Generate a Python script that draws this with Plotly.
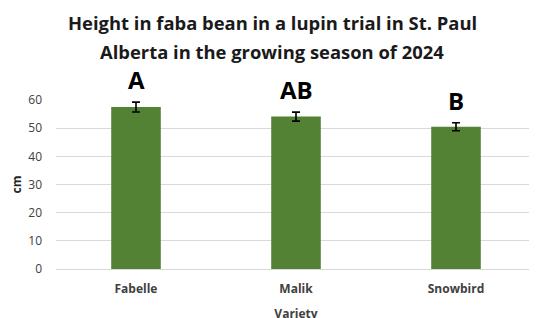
import plotly.graph_objects as go

varieties = ["Fabelle", "Malik", "Snowbird"]
height_cm = [57.5, 54.1, 50.5]
error_cm = [1.75, 1.6, 1.4]
letters = ["A", "AB", "B"]
y_ticks = [0, 10, 20, 30, 40, 50, 60]
title_lines = ["Height in faba bean in a lupin trial in St. Paul",
               "Alberta in the growing season of 2024"]

fig = go.Figure()
fig.add_trace(go.Bar(
    x=varieties, y=height_cm, width=0.31,
    marker=dict(color="#548235", line=dict(width=0)),
    error_y=dict(type="data", array=error_cm, visible=True,
                 color="black", thickness=1.6, width=4),
))
for v, h, e, l in zip(varieties, height_cm, error_cm, letters):
    fig.add_annotation(x=v, y=h + e, text="<b>" + l + "</b>", showarrow=False,
                       yanchor="bottom", yshift=4,
                       font=dict(family="Open Sans", size=24, color="black"))

for line, ypos in zip(title_lines, [1.4615, 1.285]):
    fig.add_annotation(
        text="<b>" + line + "</b>",
        xref="paper", yref="paper", x=0.5, y=ypos, xanchor="center", yanchor="middle",
        xshift=-24, showarrow=False,
        font=dict(family="Open Sans", size=18.4, color="#1a1a1a"))

fig.update_layout(
    width=537, height=318,
    margin=dict(l=48, r=9, t=92, b=57, autoexpand=False),
    paper_bgcolor="white", plot_bgcolor="white",
    showlegend=False,
)
fig.update_xaxes(
    title=dict(text="<b>Variety</b>", font=dict(family="Open Sans", size=12, color="#404040"), standoff=13),
    tickfont=dict(family="Open Sans", size=12, color="#404040"),
    showline=True, linecolor="#d9d9d9", ticks="", automargin=False,
    tickprefix="<b>", ticksuffix="</b>", ticklabelstandoff=9,
)
fig.update_yaxes(
    range=[0, 60], tickvals=y_ticks, automargin=False,
    title=dict(text="<b>cm</b>", font=dict(family="Open Sans", size=12, color="#262626"), standoff=11),
    tickfont=dict(family="Open Sans", size=12, color="#404040"),
    showgrid=True, gridcolor="#d9d9d9", zeroline=False,
    ticklen=0, ticklabelstandoff=13,
)
fig.write_html("out.html")
